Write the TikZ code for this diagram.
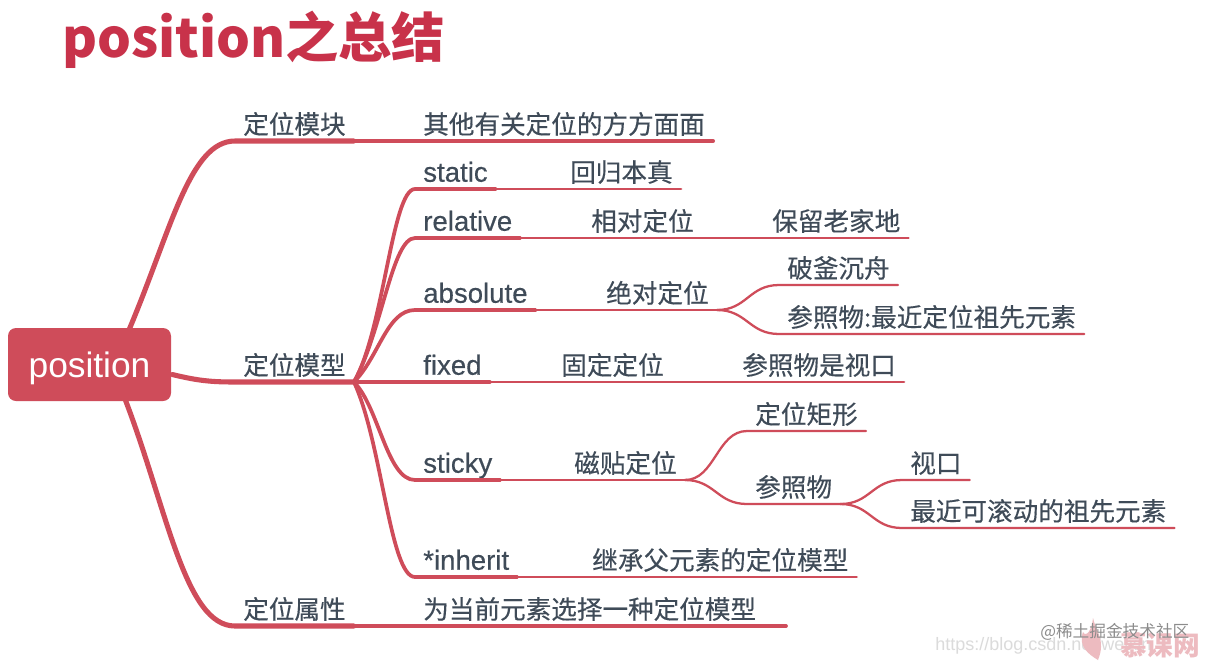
\documentclass[tikz,border=0pt]{standalone}
\usepackage{fontspec}
\setmainfont{Noto Sans CJK SC}
\newfontfamily\lat{Liberation Sans}
\newfontfamily\latm[FakeBold=0.35]{Liberation Sans}
\newfontfamily\cjkm[FakeBold=0.3]{Noto Sans CJK SC}
\usetikzlibrary{calc}
\definecolor{brick}{HTML}{CF4C5A}
\definecolor{titlered}{HTML}{C8324A}
\definecolor{ink}{HTML}{3F4B58}
\tikzset{
  x=0.75pt,y=-0.75pt,
  lbl/.style={anchor=south west,inner xsep=8*0.75pt,inner ysep=1.5pt,text=ink,text height=15pt,text depth=3.75pt,font=\fontsize{19.2}{23}\cjkm\selectfont},
  rootbox/.style={fill=brick,rounded corners=6pt,text=white,minimum width=122.25pt,minimum height=54.75pt,inner sep=0pt,text height=20pt,text depth=1.2pt,font=\fontsize{26.5}{30}\lat\selectfont},
  lone/.style={draw=brick,line width=3.8pt,line cap=round},
  ltwo/.style={draw=brick,line width=2.8pt,line cap=round},
  lthree/.style={draw=brick,line width=2.2pt,line cap=round},
  lfour/.style={draw=brick,line width=1.7pt,line cap=round},
}
\newcommand{\la}[1]{{\latm\fontsize{20.7}{23}\selectfont #1}}
\begin{document}
\begin{tikzpicture}
\useasboundingbox (0,0) rectangle (1220,662);
\fill[white] (0,0) rectangle (1220,662);

% watermark
\node[anchor=west,inner sep=0pt,text=gray!28,font=\fontsize{13.5}{15}\lat\selectfont] (wm1) at (935,646) {https://blog.csdn.net/weixin};
\fill[brick!38] (1093,618) .. controls (1096,632) and (1106,640) .. (1098,660) .. controls (1088,654) and (1078,646) .. (1083,632) .. controls (1086,638) and (1092,630) .. (1093,618) -- cycle;
\node[anchor=center,inner sep=0pt,text=brick!38,font=\fontsize{20}{22}\bfseries\selectfont] (wm2) at (1160,645) {慕课网};
\node[anchor=west,inner sep=0pt,text=gray!90,font=\fontsize{12.5}{15}\selectfont] (wm3) at (1040,632) {@稀土掘金技术社区};

% title
\node[anchor=west,inner sep=0pt,text=titlered,font=\fontsize{40}{50}\bfseries\selectfont] (title) at (62,40) {position之总结};

% root
\node[rootbox] (root) at (89.5,364.5) {position};

% level 1
\node[lbl] (mod) at (235,141) {定位模块};
\node[lbl] (mod2) at (415,141) {其他有关定位的方方面面};
\node[lbl] (mdl) at (235,382) {定位模型};
\node[lbl] (att) at (235,626) {定位属性};
\node[lbl] (att2) at (415,626) {为当前元素选择一种定位模型};
\coordinate (att3) at (786,626);

% level 2
\node[lbl] (st) at (415,189) {\la{static}};
\node[lbl] (st2) at (562,189) {回归本真};
\node[lbl] (re) at (415,238) {\la{relative}};
\node[lbl] (re2) at (583,238) {相对定位};
\node[lbl] (re3) at (764,238) {保留老家地};
\node[lbl] (ab) at (415,310) {\la{absolute}};
\node[lbl] (ab2) at (598,310) {绝对定位};
\node[lbl] (ab3) at (779,285) {破釜沉舟};
\node[lbl] (ab4) at (779,334) {参照物:最近定位祖先元素};
\node[lbl] (fi) at (415,382) {\la{fixed}};
\node[lbl] (fi2) at (553,382) {固定定位};
\node[lbl] (fi3) at (734,382) {参照物是视口};
\node[lbl] (sk) at (415,480) {\la{sticky}};
\node[lbl] (sk2) at (566,480) {磁贴定位};
\node[lbl] (sk3) at (747,431) {定位矩形};
\node[lbl] (sk4) at (747,504) {参照物};
\node[lbl] (sk5) at (902,480) {视口};
\node[lbl] (sk6) at (902,528) {最近可滚动的祖先元素};
\node[lbl] (in) at (415,577) {\la{*inherit}};
\node[lbl] (in2) at (584,577) {继承父元素的定位模型};

% root branches
\draw[lone] ($(root.north)+(40,1)$) .. controls +(42,-100) and +(-45,0) .. (mod.south west) -- (mod.south east);
\draw[lone] ($(root.east)+(1,10)$) .. controls +(25,6) and +(-25,0) .. (mdl.south west) -- (mdl.south east);
\draw[lone] ($(root.south)+(36,-1)$) .. controls +(42,110) and +(-50,0) .. (att.south west) -- (att.south east);
\draw[ltwo] (mod.south east) -- (mod2.south east);
\draw[ltwo] (att.south east) -- (att2.south east) -- (att3);

% model fan
\draw[ltwo] (mdl.south east) .. controls +(30,-52) and +(-23,0) .. (st.south west) -- (st.south east);
\draw[ltwo] (mdl.south east) .. controls +(28,-50) and +(-23,0) .. (re.south west) -- (re.south east);
\draw[ltwo] (mdl.south east) .. controls +(25,-25) and +(-28,0) .. (ab.south west) -- (ab.south east);
\draw[ltwo] (mdl.south east) -- (fi.south west) -- (fi.south east);
\draw[ltwo] (mdl.south east) .. controls +(25,25) and +(-28,0) .. (sk.south west) -- (sk.south east);
\draw[ltwo] (mdl.south east) .. controls +(28,60) and +(-25,0) .. (in.south west) -- (in.south east);

% level 2 rows
\draw[lthree] (st.south east) -- (st2.south east);
\draw[lthree] (re.south east) -- (re2.south east);
\draw[lfour] (re2.south east) -- (re3.south east);
\draw[lthree] (ab.south east) -- (ab2.south east);
\draw[lthree] (fi.south east) -- (fi2.south east);
\draw[lfour] (fi2.south east) -- (fi3.south east);
\draw[lthree] (sk.south east) -- (sk2.south east);
\draw[lthree] (in.south east) -- (in2.south east);

% deeper fans
\draw[lfour] (ab2.south east) .. controls +(30,0) and +(-30,0) .. (ab3.south west) -- (ab3.south east);
\draw[lfour] (ab2.south east) .. controls +(30,0) and +(-30,0) .. (ab4.south west) -- (ab4.south east);
\draw[lfour] (sk2.south east) .. controls +(30,0) and +(-30,0) .. (sk3.south west) -- (sk3.south east);
\draw[lfour] (sk2.south east) .. controls +(30,0) and +(-30,0) .. (sk4.south west) -- (sk4.south east);
\draw[lfour] (sk4.south east) .. controls +(30,0) and +(-30,0) .. (sk5.south west) -- (sk5.south east);
\draw[lfour] (sk4.south east) .. controls +(30,0) and +(-30,0) .. (sk6.south west) -- (sk6.south east);
\end{tikzpicture}
\end{document}
